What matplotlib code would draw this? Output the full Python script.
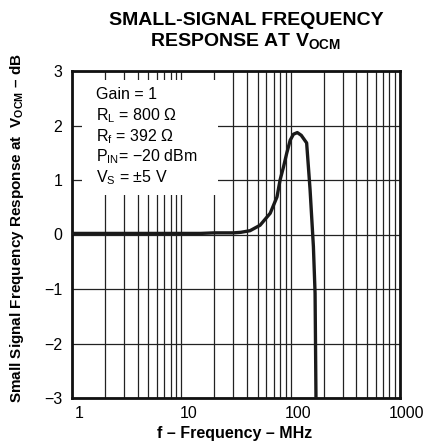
import matplotlib
matplotlib.use("Agg")
import matplotlib.pyplot as plt
from matplotlib.patches import Rectangle
from matplotlib.transforms import ScaledTranslation
from matplotlib.ticker import FixedLocator, NullFormatter

plt.rcParams['font.family'] = ['Liberation Sans', 'DejaVu Sans']
plt.rcParams['mathtext.fontset'] = 'custom'
plt.rcParams['mathtext.rm'] = 'Liberation Sans'
plt.rcParams['mathtext.bf'] = 'Liberation Sans:bold'
plt.rcParams['mathtext.it'] = 'Liberation Sans:italic'

# Data
freq_mhz = [1, 2, 5, 10, 15, 20, 30, 35, 42.5, 52.5, 65, 75, 80, 86, 92, 99, 106, 115,
            125, 140, 150.5, 161.4, 167.2, 170.5]
gain_db = [0.02, 0.02, 0.02, 0.02, 0.02, 0.03, 0.03, 0.04, 0.07, 0.17, 0.39, 0.69, 1.0,
           1.24, 1.49, 1.73, 1.84, 1.87, 1.82, 1.68, 0.82, -0.22, -1.08, -3.04]

x_ticks = [1, 10, 100, 1000]
x_tick_labels = ["1", "10", "100", "1000"]
y_ticks = [-3, -2, -1, 0, 1, 2, 3]
y_tick_labels = ["\u22123", "\u22122", "\u22121", "0", "1", "2", "3"]
x_minor = [m * d for d in (1, 10, 100) for m in range(2, 10)]

annotation_lines = ["Gain = 1",
                    "R$_\\mathrm{L}$ = 800 \u03a9",
                    "R$_\\mathrm{f}$ = 392 \u03a9",
                    "P$_\\mathrm{IN}$= \u221220 dBm",
                    "V$_\\mathrm{S}$ = \u00b15 V"]

fig = plt.figure(figsize=(4.28, 4.46), dpi=100)
ax = fig.add_axes([72/428, 48/446, 328/428, 327/446])

ax.set_xscale('log')
ax.set_xlim(1, 1000)
ax.set_ylim(-3, 3)

ax.xaxis.set_major_locator(FixedLocator(x_ticks))
ax.xaxis.set_minor_locator(FixedLocator(x_minor))
ax.xaxis.set_minor_formatter(NullFormatter())
ax.set_xticks(x_ticks)
ax.set_xticklabels(x_tick_labels, fontsize=11.5)
ax.set_yticks(y_ticks)
ax.set_yticklabels(y_tick_labels, fontsize=11.5)
ax.tick_params(which='both', length=0)
ax.tick_params(axis='y', pad=7)
ax.tick_params(axis='x', pad=6)

for lab in ax.get_xticklabels():
    lab.set_transform(lab.get_transform() + ScaledTranslation(0.07, 0, fig.dpi_scale_trans))

ax.set_axisbelow(True)
ax.grid(True, which='both', axis='x', color='#222222', linewidth=0.9)
ax.grid(True, which='major', axis='y', color='#222222', linewidth=0.9)

for s in ax.spines.values():
    s.set_linewidth(2.0)
    s.set_color('#111111')

# white box behind the annotation
ax.add_patch(Rectangle((1.23, 0.72), 21.6 - 1.23, 2.84 - 0.72, facecolor='white',
                       edgecolor='none', zorder=1))

ax.plot(freq_mhz, gain_db, color='#1a1a1a', linewidth=2.4, zorder=4,
        solid_joinstyle='round', solid_capstyle='butt')

for i, line in enumerate(annotation_lines):
    ax.text(1.66, 2.56 - i * 0.38, line, fontsize=11.5, va='center', ha='left', zorder=5)

fig.text(0.575, 0.955, "SMALL-SIGNAL FREQUENCY", fontsize=14, fontweight='bold',
         ha='center', va='center')
fig.text(0.575, 0.908, "RESPONSE AT V$_\\mathbf{OCM}$", fontsize=14, fontweight='bold',
         ha='center', va='center')

fig.text(0.04, 0.489, "Small Signal Frequency Response at  V$_\\mathbf{OCM}$ \u2013 dB",
         fontsize=11, fontweight='bold', rotation=90, ha='center', va='center')
fig.text(0.549, 0.029, "f \u2013 Frequency \u2013 MHz", fontsize=11.5, fontweight='bold',
         ha='center', va='center')

fig.savefig("out.png", dpi=100)
